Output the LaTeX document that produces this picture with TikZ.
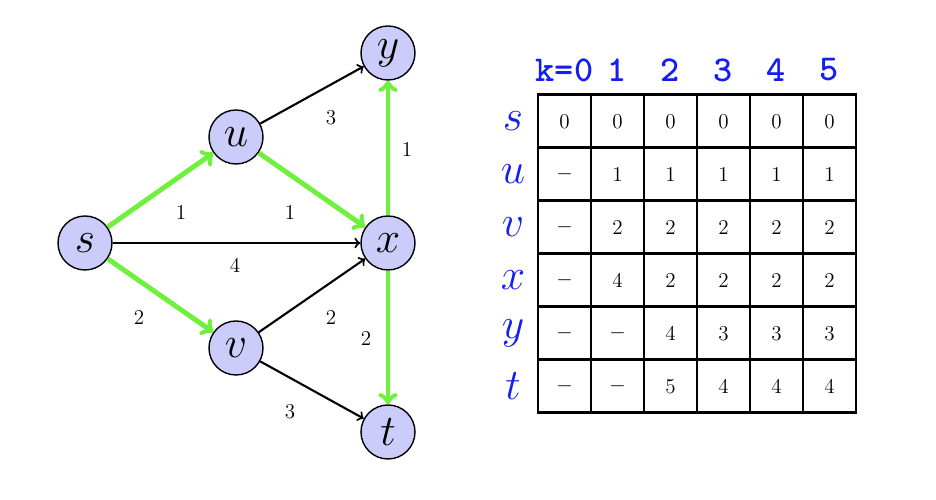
\documentclass[tikz,border=0pt]{standalone}
\definecolor{pathgreen}{RGB}{110,240,60}
\definecolor{vertexfill}{RGB}{204,204,250}
\definecolor{labelblue}{RGB}{20,30,240}
\begin{document}
\begin{tikzpicture}[
  vertex/.style={circle,draw,line width=0.8pt,fill=vertexfill,minimum size=1.08cm,inner sep=0pt,font=\Huge},
  plain/.style={->,line width=1.2pt},
  shortest/.style={->,line width=2.8pt,draw=pathgreen},
  weight/.style={font=\large},
  cell/.style={draw,line width=1.7pt,minimum size=1.06cm,inner sep=0pt,font=\large},
  rowname/.style={text=labelblue,font=\Huge},
  colname/.style={text=labelblue,font=\huge\ttfamily\bfseries}]
\useasboundingbox (0,0) rectangle (18.72,10);

% graph
\node [vertex] (s) at (1.70,5.14) {$s$};
\node [vertex] (u) at (4.72,7.26) {$u$};
\node [vertex] (v) at (4.72,3.04) {$v$};
\node [vertex] (y) at (7.76,8.94) {$y$};
\node [vertex] (x) at (7.76,5.14) {$x$};
\node [vertex] (t) at (7.76,1.36) {$t$};

\draw[plain] (s) -- (x);
\draw[plain] (u) -- (y);
\draw[plain] (v) -- (x);
\draw[plain] (v) -- (t);
\draw[shortest] (s) -- (u);
\draw[shortest] (s) -- (v);
\draw[shortest] (u) -- (x);
\draw[shortest] (x) -- (y);
\draw[shortest] (x) -- (t);

\node [weight] (wsu) at (3.62,5.74) {$1$};
\node [weight] (wux) at (5.80,5.74) {$1$};
\node [weight] (wsx) at (4.70,4.68) {$4$};
\node [weight] (wsv) at (2.78,3.64) {$2$};
\node [weight] (wvx) at (6.62,3.64) {$2$};
\node [weight] (wxt) at (7.32,3.22) {$2$};
\node [weight] (wvt) at (5.80,1.76) {$3$};
\node [weight] (wuy) at (6.62,7.64) {$3$};
\node [weight] (wxy) at (8.14,7.00) {$1$};

% table
\foreach \k [count=\j from 0] in {k=0,1,2,3,4,5}
  \node [colname] (h\j) at ({11.29+1.06*\j},8.60) {\k};
\foreach \vname [count=\i from 0] in {s,u,v,x,y,t}
  \node [rowname] (r\i) at (10.26,{7.57-1.06*\i}) {$\vname$};
\foreach \row [count=\i from 0] in {{0,0,0,0,0,0},{-,1,1,1,1,1},{-,2,2,2,2,2},{-,4,2,2,2,2},{-,-,4,3,3,3},{-,-,5,4,4,4}}
  \foreach \val [count=\j from 0] in \row
    \node [cell] (c\i\j) at ({11.29+1.06*\j},{7.57-1.06*\i}) {$\val$};
\end{tikzpicture}
\end{document}
